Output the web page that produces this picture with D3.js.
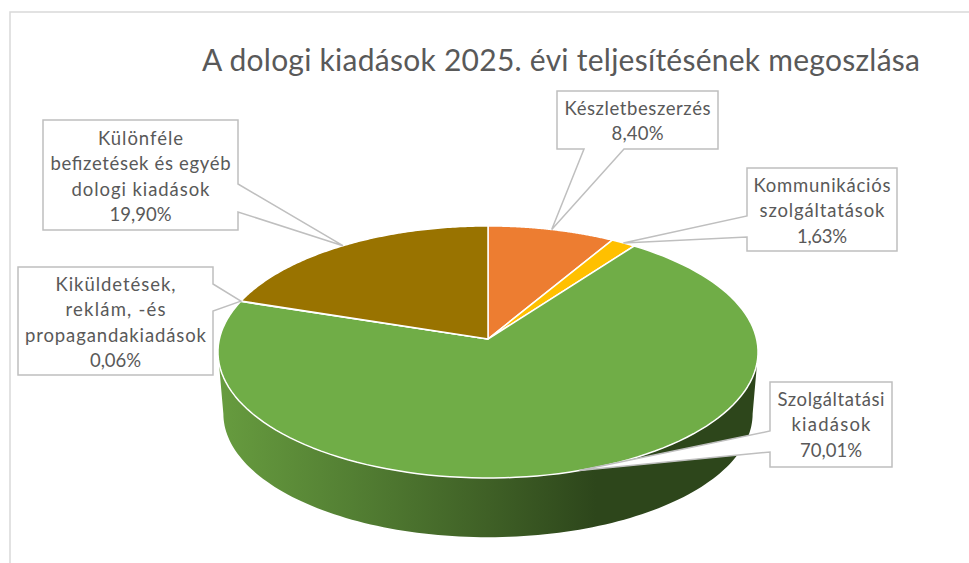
<!DOCTYPE html>
<html>
<head>
<meta charset="utf-8">
<script src="https://cdnjs.cloudflare.com/ajax/libs/d3/7.8.5/d3.min.js"></script>
<style>
html, body { margin: 0; background: #fff; }
text { font-family: Lato, "Open Sans", sans-serif; fill: #595959; }
</style>
</head>
<body>
<svg id="chart" width="969" height="563"></svg>
<script>
var categories = ["Készletbeszerzés", "Kommunikációs szolgáltatások", "Szolgáltatási kiadások", "Kiküldetések, reklám, -és propagandakiadások", "Különféle befizetések és egyéb dologi kiadások"];
var values = [8.40, 1.63, 70.01, 0.06, 19.90];
var valueLabels = ["8,40%", "1,63%", "70,01%", "0,06%", "19,90%"];
var labelLines = [
    ["Készletbeszerzés"],
    ["Kommunikációs", "szolgáltatások"],
    ["Szolgáltatási", "kiadások"],
    ["Kiküldetések,", "reklám, -és", "propagandakiadások"],
    ["Különféle", "befizetések és egyéb", "dologi kiadások"]
];
var colors = ["#ed7d31", "#ffc000", "#70ad47", "#4472c4", "#997300"];
var title = "A dologi kiadások 2025. évi teljesítésének megoszlása";

// callout boxes, side = edge the wedge leaves from, w0/w1 = wedge base along that edge
// lens = width of each text row, the original font is spaced wider than Lato
var boxes = [
    {x: 557, y: 91, w: 161, h: 58, side: "bottom", w0: 584, w1: 624, top: 115, lens: [146, 52]},
    {x: 747, y: 168, w: 150, h: 83, side: "left", w0: 216, w1: 237, top: 192, lens: [137, 125, 50]},
    {x: 770, y: 382, w: 122, h: 85, side: "left", w0: 431, w1: 452, top: 406, lens: [107, 79, 62]},
    {x: 18, y: 267, w: 195, h: 108, side: "right", w0: 284, w1: 311, top: 291, lens: [120, 100, 181, 51]},
    {x: 43, y: 120, w: 195, h: 110, side: "right", w0: 184, w1: 212, top: 145, lens: [85, 180, 138, 62]}
];

var svg = d3.select("#chart");

// frame of the chart, only top and left fall inside the crop
svg.append("path").attr("d", "M10,563V12H969").attr("fill", "none").attr("stroke", "#d9d9d9").attr("stroke-width", 1.5);

svg.append("text").attr("x", 202).attr("y", 71).attr("font-size", 30)
    .attr("textLength", 718).attr("lengthAdjust", "spacing").text(title);

// 3D look: circle projected with a small perspective
var apex = {x: 488, y: 339};
var persp = 0.103;
function project(a, dy, scale) {
    var u = Math.sin(a), v = -Math.cos(a), w = 1 - persp * v;
    return [apex.x + 268.6 * scale * u / w, apex.y + dy + 124.7 * scale * v / w];
}

var pie = d3.pie().sort(null).value(function(d){ return d; });
var arcs = pie(values);
var line = d3.line();

function arcPoints(a0, a1, dy, scale) {
    return d3.range(0, 121).map(function(i){
        return project(a0 + (a1 - a0) * i / 120, dy, scale);
    });
}

// side wall
var grad = svg.append("defs").append("linearGradient").attr("id", "wall")
    .attr("gradientUnits", "userSpaceOnUse").attr("x1", 218).attr("x2", 758).attr("y1", 0).attr("y2", 0);
[[0, "#679c3f"], [0.25, "#537f33"], [0.5, "#3f6026"], [0.7, "#2d461b"], [1, "#2d461b"]].forEach(function(s){
    grad.append("stop").attr("offset", s[0]).attr("stop-color", s[1]);
});

var tangent = Math.acos(-persp);
var wallTop = arcPoints(tangent, 2 * Math.PI - tangent, 0, 1);
var wallBottom = arcPoints(tangent, 2 * Math.PI - tangent, 62, 0.98).reverse();
svg.append("path").attr("d", line(wallTop.concat(wallBottom)) + "Z").attr("fill", "url(#wall)");

// top face
svg.selectAll("path.slice").data(arcs).enter().append("path")
    .attr("class", "slice")
    .attr("d", function(d){
        return line([[apex.x, apex.y]].concat(arcPoints(d.startAngle, d.endAngle, 0, 1))) + "Z";
    })
    .attr("fill", function(d, i){ return colors[i]; })
    .attr("stroke", "#fff").attr("stroke-width", 1.5).attr("stroke-linejoin", "round");

// callouts
function calloutPath(b, tip) {
    var x0 = b.x, y0 = b.y, x1 = b.x + b.w, y1 = b.y + b.h;
    var p = [[x0, y0], [x1, y0]];
    if (b.side === "right") p.push([x1, b.w0], tip, [x1, b.w1]);
    p.push([x1, y1]);
    if (b.side === "bottom") p.push([b.w1, y1], tip, [b.w0, y1]);
    p.push([x0, y1]);
    if (b.side === "left") p.push([x0, b.w1], tip, [x0, b.w0]);
    return line(p) + "Z";
}

var labels = svg.selectAll("g.label").data(arcs).enter().append("g").attr("class", "label");

labels.append("path")
    .attr("d", function(d, i){
        return calloutPath(boxes[i], project((d.startAngle + d.endAngle) / 2, 0, 1));
    })
    .attr("fill", "#fff").attr("stroke", "#bfbfbf").attr("stroke-width", 1.5);

labels.each(function(d, i){
    var b = boxes[i];
    var rows = labelLines[i].concat([valueLabels[i]]);
    d3.select(this).selectAll("text").data(rows).enter().append("text")
        .attr("x", b.x + b.w / 2)
        .attr("y", function(r, j){ return b.top + j * 25.3; })
        .attr("text-anchor", "middle")
        .attr("font-size", 18.5)
        .attr("textLength", function(r, j){ return b.lens[j]; })
        .attr("lengthAdjust", "spacing")
        .text(function(r){ return r; });
});
</script>
</body>
</html>
